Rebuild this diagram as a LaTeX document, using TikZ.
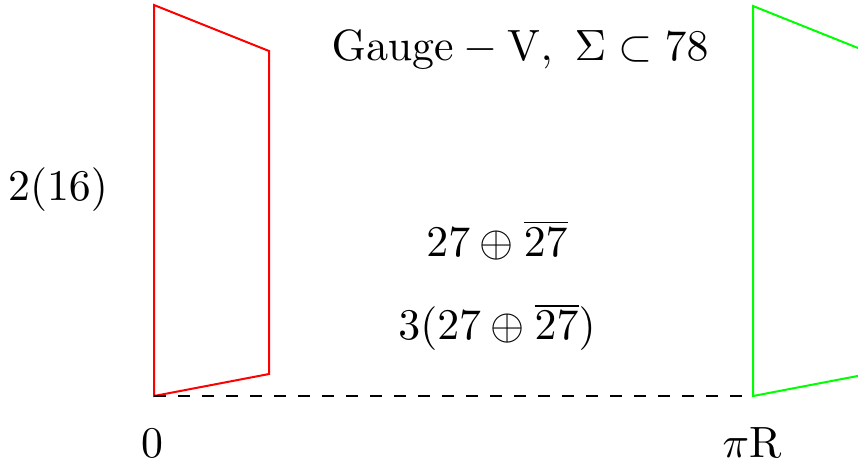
\documentclass[tikz,border=0pt]{standalone}
\definecolor{brane1}{RGB}{255,0,0}
\definecolor{brane2}{RGB}{0,255,0}
\tikzset{
  lbl/.style={inner sep=0pt, font=\fontsize{10.95}{13.6}\selectfont},
  brane/.style={line width=0.5pt, line join=miter},
}
\begin{document}
\begin{tikzpicture}[x=0.25pt, y=-0.25pt]
\useasboundingbox (0,0) rectangle (858,465);
\clip (0,0) rectangle (858,465);
% left brane (red)
\coordinate (a1) at (154,5);
\coordinate (a2) at (269,51);
\coordinate (a3) at (269,374);
\coordinate (a4) at (154,396);
\draw[brane, brane1] (a1) -- (a2) -- (a3) -- (a4) -- cycle;
% right brane (green)
\coordinate (b1) at (753,6);
\coordinate (b2) at (868,52);
\coordinate (b3) at (868,374);
\coordinate (b4) at (753,396);
\draw[brane, brane2] (b1) -- (b2) -- (b3) -- (b4) -- cycle;
% bulk dashed line
\draw[dashed, line width=0.45pt] (a4) -- (b4);
% labels
\node[lbl] (gauge) at (520,50) {$\mathrm{Gauge}-\mathrm{V},\ \Sigma\subset 78$};
\node[lbl] (twist) at (58,190) {$2(16)$};
\node[lbl] (one) at (497,240) {$27\oplus\overline{27}$};
\node[lbl] (three) at (497,327) {$3(27\oplus\overline{27})$};
\node[lbl] (zero) at (152,443) {$0$};
\node[lbl] (piR) at (752,443) {$\pi\mathrm{R}$};
\end{tikzpicture}
\end{document}
